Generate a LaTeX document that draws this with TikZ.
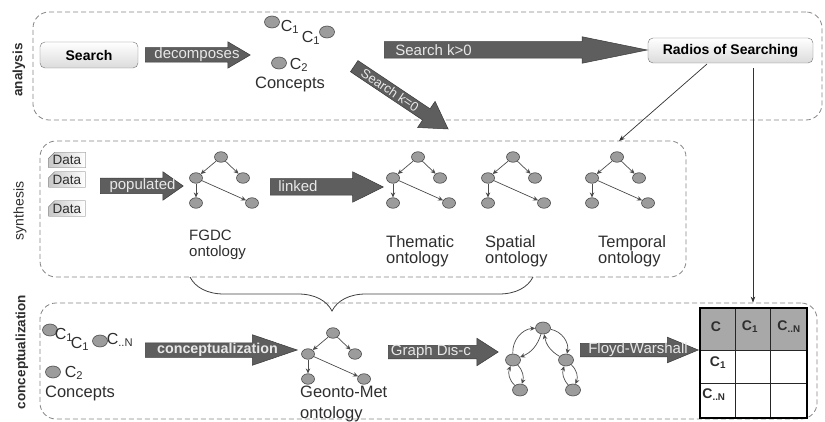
\documentclass[tikz,border=0pt]{standalone}
\usepackage{fontspec}
\setmainfont{Liberation Sans}
\usetikzlibrary{shapes.arrows,shapes.geometric,shapes.misc,arrows.meta,decorations.pathreplacing,calc}

\definecolor{arrowfill}{HTML}{5E5E5E}
\definecolor{arrowedge}{HTML}{3A3A3A}
\definecolor{arrowtext}{HTML}{E8E8E8}
\definecolor{dotfill}{HTML}{9C9C9C}
\definecolor{dotedge}{HTML}{4A4A4A}
\definecolor{regionline}{HTML}{858585}
\definecolor{labelgray}{HTML}{2E2E2E}
\definecolor{headfill}{HTML}{A8A8A8}

% font size and line distance, both in pt
\newcommand{\pxfont}[1]{\fontsize{#1}{#1}\selectfont}
\newcommand{\pxfontl}[2]{\fontsize{#1}{#2}\selectfont}

\tikzset{
  region/.style={draw=regionline, dash pattern=on 5pt off 3pt, rounded corners=16pt,
    line width=0.8pt, inner sep=0pt},
  phase/.style={rotate=90, text=labelgray, inner sep=0pt},
  topbox/.style={draw=black!55, rounded corners=5pt, top color=white, bottom color=black!14,
    font=\bfseries\pxfont{14}, text=black, inner sep=0pt},
  databox/.style={chamfered rectangle, chamfered rectangle corners=north west,
    chamfered rectangle xsep=3pt, chamfered rectangle ysep=3pt,
    draw=black!60, left color=black!22, right color=white, minimum width=37pt,
    minimum height=15pt, inner sep=0pt, font=\pxfont{13.5}, text=labelgray},
  fatarrow/.style={single arrow, anchor=tail, draw=arrowedge, fill=arrowfill, line width=0.5pt,
    inner xsep=0pt, inner ysep=0pt, single arrow head indent=0pt, minimum width=1pt},
  bodyhalf/.style={text height=#1, text depth=#1},
  arrowlabel/.style={text=arrowtext, font=\pxfont{15}, inner sep=0pt},
  dot/.style={ellipse, draw=dotedge, fill=dotfill, minimum width=15pt, minimum height=12pt,
    inner sep=0pt, line width=0.6pt},
  smalldot/.style={dot, minimum width=13pt, minimum height=10.5pt},
  treeedge/.style={draw=black!70, line width=0.7pt, -{Stealth[length=5pt,width=4.5pt]}},
  thinarrow/.style={draw=black!80, line width=0.7pt, -{Stealth[length=6pt,width=4.5pt]}},
  concept/.style={text=labelgray, font=\pxfont{16}, inner sep=0pt},
  ontolabel/.style={text=labelgray, align=left, inner sep=0pt},
  cell/.style={text=labelgray, font=\bfseries\pxfont{14}, inner sep=0pt},
  onto/.pic={
    \node[smalldot] (-r) at (0,0) {};
    \node[smalldot] (-a) at (-25,-21) {};
    \node[smalldot] (-b) at (22,-21) {};
    \node[smalldot] (-c) at (-25,-46) {};
    \node[smalldot] (-d) at (31,-46) {};
    \draw[treeedge] (-r) -- (-a);
    \draw[treeedge] (-r) -- (-b);
    \draw[treeedge] (-a) -- (-c);
    \draw[treeedge] (-a) -- (-d);
  }
}

\begin{document}
\begin{tikzpicture}[x=1pt,y=1pt]
\useasboundingbox (0,0) rectangle (825,421);

% ---- the three phases ----
\node[region, minimum width=789pt, minimum height=108pt] (ana) at (427.5,355) {};
\node[region, minimum width=646pt, minimum height=136pt] (syn) at (363,212) {};
\node[region, minimum width=777pt, minimum height=116pt] (conc) at (428.5,60) {};

\node[phase, font=\bfseries\pxfont{13.5}] (lana) at (19,351) {analysis};
\node[phase, font=\pxfont{14}] (lsyn) at (20,210) {synthesis};
\node[phase, font=\bfseries\pxfont{13.5}] (lconc) at (22,69) {conceptualization};

% ---- analysis ----
\node[topbox, minimum width=98pt, minimum height=26pt] (search) at (89,366) {Search};
\node[topbox, minimum width=165pt, minimum height=25pt] (rad) at (730.5,370.5) {Radios of Searching};

\node[fatarrow, bodyhalf=7pt, single arrow head extend=6pt, single arrow tip angle=61,
  minimum height=105pt] (adec) at (145,366) {};
\node[arrowlabel] (tdec) at (197,366) {decomposes};

\node[dot] (k1) at (272,399) {};
\node[concept] (k1t) at (290,394) {C\textsubscript{1}};
\node[concept] (k1u) at (311,383) {C\textsubscript{1}};
\node[dot] (k2) at (327,389) {};
\node[dot] (k3) at (279,358) {};
\node[concept] (k3t) at (299,356) {C\textsubscript{2}};
\node[concept, font=\pxfont{16.5}] (kcon) at (290,337) {Concepts};

\node[fatarrow, bodyhalf=8pt, single arrow head extend=5pt, single arrow tip angle=23,
  minimum height=263pt] (akpos) at (384,371) {};
\node[arrowlabel] (tkpos) at (433.5,371) {Search k>0};

\node[fatarrow, bodyhalf=6.5pt, single arrow head extend=9pt, single arrow tip angle=62,
  minimum height=113pt, rotate=-33.8] (akzero) at (354,355) {};
\node[arrowlabel, font=\pxfont{13}, rotate=-33.8] (tkzero) at (390,331) {Search k=0};

\coordinate (dstart) at (707,357);
\coordinate (dend) at (619,280);
\draw[thinarrow] (dstart) -- (dend);
\coordinate (vstart) at (753,353);
\draw[thinarrow] (vstart) -- (vstart |- conc.north);

% ---- synthesis ----
\node[databox] (d1) at (67,261) {Data};
\node[databox] (d2) at (67,241.5) {Data};
\node[databox] (d3) at (67,212.5) {Data};

\node[fatarrow, bodyhalf=7.5pt, single arrow head extend=6.5pt, single arrow tip angle=70,
  minimum height=83pt] (apop) at (100,235) {};
\node[arrowlabel] (tpop) at (142.5,235) {populated};

\node[fatarrow, bodyhalf=8pt, single arrow head extend=7pt, single arrow tip angle=53,
  minimum height=113pt] (alink) at (270,234) {};
\node[arrowlabel] (tlink) at (298,235) {linked};

\pic (fgdc) at (221,264) {onto};
\pic (them) at (418,264) {onto};
\pic (spat) at (513,264) {onto};
\pic (temp) at (617,264) {onto};

\node[ontolabel, font={\pxfontl{15}{16}}, anchor=north west] (lfgdc) at (189,191) {FGDC\\ontology};
\node[ontolabel, font={\pxfontl{16.5}{16.5}}, anchor=north west] (lthem) at (386,186) {Thematic\\ontology};
\node[ontolabel, font={\pxfontl{16.5}{16.5}}, anchor=north west] (lspat) at (485,186) {Spatial\\ontology};
\node[ontolabel, font={\pxfontl{16.5}{16.5}}, anchor=north west] (ltemp) at (598,186) {Temporal\\ontology};

% brace gathering the ontologies
\coordinate (bracer) at (533,144);
\coordinate (bracel) at (190,144);
\draw[draw=black!75, line width=0.8pt, decorate,
  decoration={brace, amplitude=34pt, aspect=0.586}] (bracer) -- (bracel);

% ---- conceptualization ----
\node[dot] (c1) at (50,91) {};
\node[concept] (c1t) at (64,86) {C\textsubscript{1}};
\node[concept] (c1u) at (80,77) {C\textsubscript{1}};
\node[dot] (c2) at (100,80) {};
\node[concept] (c2t) at (120,81) {C\textsubscript{..N}};
\node[dot] (c3) at (53,49) {};
\node[concept] (c3t) at (74,48) {C\textsubscript{2}};
\node[concept, font=\pxfont{16.5}] (ccon) at (80,28) {Concepts};

\node[fatarrow, bodyhalf=7pt, single arrow head extend=8pt, single arrow tip angle=37.6,
  minimum height=152pt] (aconc) at (145,71) {};
\node[arrowlabel, font=\bfseries\pxfont{14.3}] (tconc) at (217.5,71) {conceptualization};

\pic (geo) at (333,88) {onto};
\node[ontolabel, font={\pxfontl{16.5}{21}}, anchor=north west] (lgeo) at (300,35) {Geonto-Met\\ontology};

\node[fatarrow, bodyhalf=6.5pt, single arrow head extend=7pt, single arrow tip angle=65.5,
  minimum height=110pt] (agraph) at (388,69) {};
\node[arrowlabel] (tgraph) at (431,69) {Graph Dis-c};

% distance graph
\node[dot] (gt) at (543,93) {};
\node[dot] (gl) at (513,61) {};
\node[dot] (gr) at (566,61) {};
\node[dot] (glb) at (520,31) {};
\node[dot] (grb) at (573,31) {};
\draw[treeedge] (gl) to[bend left=45] (gt);
\draw[treeedge] (gt) to[bend left=25] (gl);
\draw[treeedge] (gt) to[bend left=45] (gr);
\draw[treeedge] (gr) to[bend left=25] (gt);
\draw[treeedge] (glb) to[bend left=35] (gl);
\draw[treeedge] (gl) to[bend left=30] (glb);
\draw[treeedge] (grb) to[bend left=30] (gr);
\draw[treeedge] (gr) to[bend left=35] (grb);

\node[fatarrow, bodyhalf=6.5pt, single arrow head extend=6pt, single arrow tip angle=45,
  minimum height=118pt] (afloyd) at (580,71) {};
\node[arrowlabel] (tfloyd) at (638,71) {Floyd-Warshall};

% distance matrix
\fill[white] (700,3) rectangle (807,113);
\fill[headfill] (700,71) rectangle (807,113);
\draw[black!85, line width=1pt] (735,3) -- (735,113) (770,3) -- (770,113)
  (700,71) -- (807,71) (700,38) -- (807,38);
\node[draw=black, line width=2pt, minimum width=107pt, minimum height=110pt, inner sep=0pt]
  (tbl) at (753.5,58) {};
\node[cell] (h0) at (716,94) {C};
\node[cell] (h1) at (750,94) {C\textsubscript{1}};
\node[cell] (h2) at (789,94) {C\textsubscript{..N}};
\node[cell] (r1) at (718,58) {C\textsubscript{1}};
\node[cell] (r2) at (714,26) {C\textsubscript{..N}};
\end{tikzpicture}
\end{document}
